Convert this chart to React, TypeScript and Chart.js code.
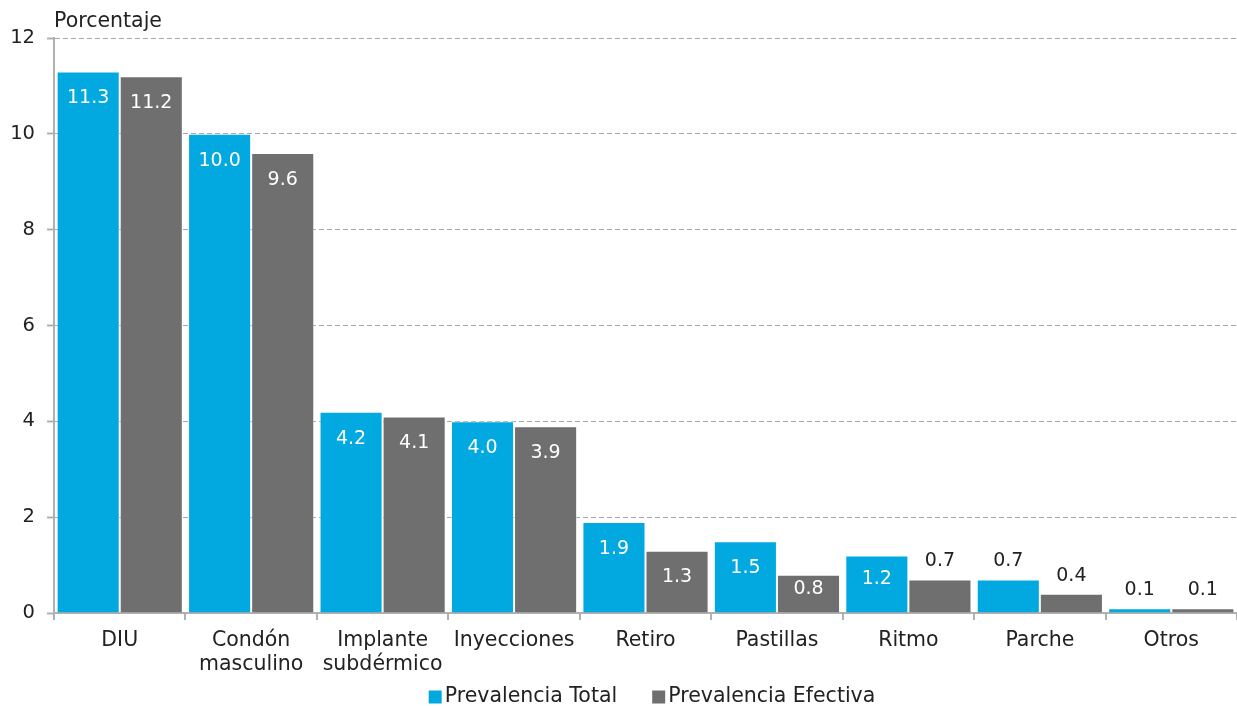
import React, { useEffect, useRef } from "react";
import { Chart, registerables } from "chart.js";

Chart.register(...registerables);

const categories: (string | string[])[] = [
  "DIU",
  ["Condón", "masculino"],
  ["Implante", "subdérmico"],
  "Inyecciones",
  "Retiro",
  "Pastillas",
  "Ritmo",
  "Parche",
  "Otros",
];
const prevalenciaTotal = [11.3, 10.0, 4.2, 4.0, 1.9, 1.5, 1.2, 0.7, 0.1];
const prevalenciaEfectiva = [11.2, 9.6, 4.1, 3.9, 1.3, 0.8, 0.7, 0.4, 0.1];
const seriesNames = ["Prevalencia Total", "Prevalencia Efectiva"];
const seriesColors = ["#02A8E0", "#6F6F6F"];
const yTitle = "Porcentaje";

const FONT = "'DejaVu Sans', sans-serif";
const FS_TEXT = 20.5;
const FS_TICK = 19.5;
const FS_VAL = 19;
const TEXT = "#222222";

const labelsPlugin = {
  id: "customLabels",
  afterDatasetsDraw(chart: any) {
    const ctx = chart.ctx;
    ctx.save();
    ctx.font = `${FS_VAL}px ${FONT}`;
    ctx.textAlign = "center";
    ctx.textBaseline = "middle";
    chart.data.datasets.forEach((ds: any, i: number) => {
      const meta = chart.getDatasetMeta(i);
      meta.data.forEach((el: any, j: number) => {
        const v = ds.data[j];
        const h = el.base - el.y;
        let y: number;
        if (h >= 36) {
          ctx.fillStyle = "#ffffff";
          y = el.y + Math.min(27, h / 2 - 5);
        } else {
          ctx.fillStyle = TEXT;
          y = el.y - 18;
        }
        ctx.fillText(v.toFixed(1), el.x, y);
      });
    });
    ctx.font = `${FS_TEXT}px ${FONT}`;
    // axis title
    ctx.textAlign = "left";
    ctx.fillStyle = TEXT;
    ctx.fillText(yTitle, chart.chartArea.left, 22);
    // legend
    const box = 13;
    const gapBox = 3;
    const gapItems = 35;
    const widths = seriesNames.map((n) => ctx.measureText(n).width);
    const total = widths.reduce((a, b) => a + b, 0) + 2 * (box + gapBox) + gapItems;
    let x = 652 - total / 2;
    const ly = 697;
    seriesNames.forEach((n, k) => {
      ctx.fillStyle = seriesColors[k];
      ctx.fillRect(x, ly - box / 2, box, box);
      x += box + gapBox;
      ctx.fillStyle = TEXT;
      ctx.fillText(n, x, ly);
      x += widths[k] + gapItems;
    });
    ctx.restore();
  },
};

export default function App() {
  const ref = useRef<HTMLCanvasElement | null>(null);
  useEffect(() => {
    document.body.style.margin = "0";
    const chart = new Chart(ref.current as HTMLCanvasElement, {
      type: "bar",
      data: {
        labels: categories,
        datasets: [
          {
            label: seriesNames[0],
            data: prevalenciaTotal,
            backgroundColor: seriesColors[0],
            borderColor: "rgba(255,255,255,0.5)",
            borderWidth: 1,
            barPercentage: 1,
            categoryPercentage: 0.96,
          },
          {
            label: seriesNames[1],
            data: prevalenciaEfectiva,
            backgroundColor: seriesColors[1],
            borderColor: "rgba(255,255,255,0.5)",
            borderWidth: 1,
            barPercentage: 1,
            categoryPercentage: 0.96,
          },
        ],
      },
      options: {
        animation: false,
        responsive: false,
        maintainAspectRatio: false,
        layout: { padding: { top: 38, right: 0, left: 0, bottom: 0 } },
        plugins: {
          legend: { display: false },
          tooltip: { enabled: false },
          title: { display: false },
        },
        scales: {
          x: {
            afterFit: (s: any) => {
              s.height = 93;
            },
            grid: {
              display: true,
              drawOnChartArea: false,
              drawTicks: true,
              tickLength: 7,
              color: "#b0b0b0",
              lineWidth: 2,
              offset: true,
            },
            border: { display: true, color: "#b0b0b0", width: 2 },
            ticks: {
              color: TEXT,
              font: { family: FONT, size: FS_TEXT, lineHeight: 1.17 },
              padding: 9,
              maxRotation: 0,
              autoSkip: false,
            },
          },
          y: {
            min: 0,
            max: 12,
            afterFit: (s: any) => {
              s.width = 54;
            },
            grid: {
              color: "#a6a6a6",
              lineWidth: 1,
              tickLength: 7,
              drawTicks: true,
              tickColor: "#b0b0b0",
              tickWidth: 2,
              tickBorderDash: [],
            } as any,
            border: { display: true, color: "#b0b0b0", width: 2, dash: [5, 3] } as any,
            ticks: {
              stepSize: 2,
              color: TEXT,
              font: { family: FONT, size: FS_TICK },
              padding: 12,
            },
          },
        },
      },
      plugins: [labelsPlugin],
    });
    return () => chart.destroy();
  }, []);
  return (
    <div style={{ width: 1237, height: 706 }}>
      <canvas ref={ref} width={1237} height={706} style={{ display: "block" }} />
    </div>
  );
}
